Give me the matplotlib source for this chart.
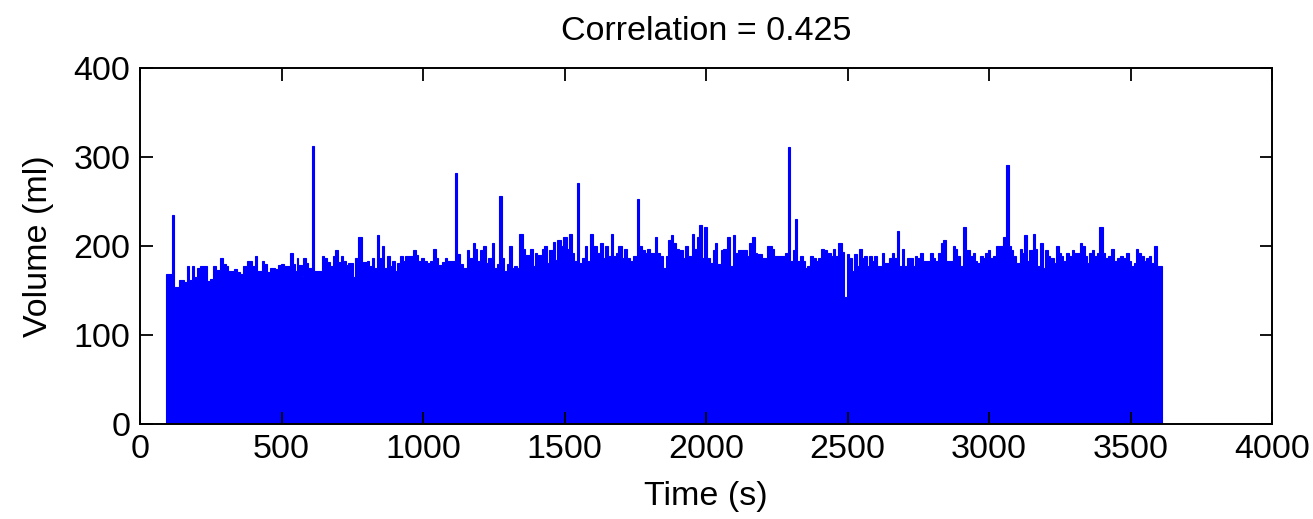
import matplotlib
matplotlib.use("Agg")
import matplotlib.pyplot as plt
import numpy as np

# Segment start times (s) and volume (ml) of each bar
segment_start_s = [
    92, 113, 120, 138, 155, 165, 174, 183, 191, 203, 212, 238, 247, 257, 269, 283, 292, 304, 312, 332,
    342, 353, 363, 379, 395, 406, 415, 430, 438, 448, 459, 477, 489, 497, 509, 530, 540, 548, 554, 560,
    571, 577, 587, 595, 607, 615, 642, 650, 660, 671, 681, 689, 701, 709, 719, 728, 736, 752, 760, 772,
    783, 789, 801, 810, 819, 827, 836, 845, 854, 862, 872, 883, 892, 901, 909, 919, 928, 936, 964, 975,
    984, 992, 1004, 1013, 1025, 1034, 1046, 1054, 1066, 1078, 1086, 1113, 1121, 1131, 1143, 1154, 1164, 1176, 1184, 1192,
    1202, 1211, 1223, 1231, 1243, 1251, 1260, 1270, 1278, 1286, 1296, 1305, 1313, 1322, 1331, 1340, 1352, 1360, 1378, 1388,
    1396, 1404, 1419, 1428, 1437, 1446, 1458, 1466, 1475, 1487, 1496,
    1508, 1517, 1525, 1533, 1543, 1552, 1561, 1572, 1581, 1590, 1599, 1616, 1625, 1635, 1643, 1655, 1663, 1672, 1682, 1690,
    1702, 1710, 1720, 1731, 1743, 1755, 1764, 1773, 1784, 1793, 1802, 1820, 1828, 1837, 1849, 1859, 1867, 1875, 1885, 1894,
    1906, 1918, 1926, 1938, 1949, 1958, 1967, 1976, 1985, 1993, 2002, 2014, 2024, 2032, 2040, 2052, 2061, 2075, 2085, 2094,
    2102, 2114, 2144, 2153, 2161, 2173, 2181,
    2197, 2215, 2232, 2240, 2279, 2288, 2297, 2306, 2315, 2323, 2332, 2342, 2350, 2358, 2368, 2379, 2389, 2397, 2405, 2417,
    2427, 2441, 2448, 2456, 2468, 2480, 2488, 2497, 2507, 2515, 2523, 2533, 2541, 2550, 2559, 2568, 2577, 2586, 2594, 2603,
    2621, 2629, 2648, 2656, 2665, 2674, 2683, 2692, 2700, 2709, 2731, 2739, 2747, 2756, 2768, 2792, 2801, 2809, 2821, 2829,
    2839, 2848, 2872, 2880, 2888, 2898, 2907,
    2917, 2933, 2943, 2951, 2959, 2969, 2978, 2986, 2995, 3004, 3013, 3025, 3051, 3061, 3070, 3077, 3086, 3096, 3108, 3116,
    3124, 3134, 3143, 3155, 3163, 3171, 3181, 3190, 3198, 3207, 3216, 3228, 3237, 3246, 3254, 3263, 3273, 3281, 3293, 3301,
    3320, 3328, 3340, 3348, 3355, 3363, 3372, 3381, 3390, 3402, 3410, 3422, 3430, 3440, 3452, 3463, 3475, 3485, 3493, 3501,
    3511, 3520, 3528, 3537, 3546, 3555, 3564, 3572, 3584, 3593,
]
last_end_s = 3613

volume_ml = [
    168, 235, 154, 162, 160, 177, 162, 177, 165, 175, 177, 161, 163, 177, 173, 186, 180, 177, 172, 174,
    171, 168, 177, 183, 177, 189, 172, 183, 180, 171, 175, 174, 179, 180, 177, 192, 180, 172, 186, 179,
    166, 186, 181, 175, 312, 172, 189, 186, 182, 177, 189, 195, 182, 189, 183, 179, 181, 165, 186, 210,
    175, 182, 183, 177, 186, 175, 212, 186, 200, 175, 189, 177, 183, 172, 181, 189, 183, 189, 195, 190,
    183, 186, 183, 181, 183, 197, 186, 179, 182, 186, 183, 282, 191, 180, 175, 195, 186, 203, 197, 183,
    196, 200, 181, 186, 203, 175, 180, 256, 186, 172, 180, 200, 175, 177, 175, 214, 197, 190, 197, 177,
    192, 190, 197, 200, 181, 195, 205, 184, 207, 200, 210,
    197, 214, 192, 183, 271, 181, 186, 200, 183, 214, 200, 192, 203, 186, 200, 189, 214, 189, 192, 200,
    186, 197, 186, 183, 189, 253, 200, 195, 192, 197, 192, 210, 192, 189, 175, 189, 207, 212, 203, 197,
    195, 186, 200, 189, 214, 197, 210, 224, 186, 221, 186, 181, 195, 203, 180, 195, 197, 210, 177, 212,
    192, 195, 189, 203, 210, 192, 191,
    186, 200, 197, 189, 192, 311, 183, 195, 230, 183, 189, 183, 175, 177, 189, 186, 183, 186, 197, 195,
    192, 189, 197, 189, 203, 193, 143, 191, 186, 172, 191, 177, 197, 186, 189, 177, 189, 183, 189, 177,
    192, 181, 186, 192, 186, 217, 177, 197, 177, 186, 177, 189, 186, 192, 183, 192, 186, 183, 192, 203,
    207, 183, 200, 197, 189, 177, 221,
    195, 189, 192, 183, 181, 189, 186, 192, 195, 186, 189, 200, 210, 291, 200, 195, 189, 181, 197, 192,
    212, 183, 195, 214, 197, 177, 203, 175, 195, 189, 186, 181, 200, 192, 189, 183, 192, 189, 195, 192,
    203, 200, 189, 181, 192, 195, 189, 192, 221, 192, 187, 189, 197, 183, 186, 189, 186, 192, 183, 177,
    181, 197, 192, 189, 183, 186, 189, 181, 200, 177,
]

title_text = "Correlation = 0.425"
x_label = "Time (s)"
y_label = "Volume (ml)"
x_ticks = [0, 500, 1000, 1500, 2000, 2500, 3000, 3500, 4000]
y_ticks = [0, 100, 200, 300, 400]

plt.rcParams['font.family'] = ['Liberation Sans', 'DejaVu Sans']
FS = 24.5

fig = plt.figure(figsize=(13.13, 5.19), dpi=100)
ax = fig.add_axes([140 / 1313, 1 - 424 / 519, (1272 - 140) / 1313, (424 - 68) / 519])

edges = np.array(segment_start_s + [last_end_s], dtype=float)
ax.stairs(np.array(volume_ml, dtype=float), edges, fill=True, color='#0000ff',
          linewidth=0.8, edgecolor='#0000ff', baseline=0)

ax.set_xlim(0, 4000)
ax.set_ylim(0, 400)
ax.set_xticks(x_ticks)
ax.set_yticks(y_ticks)
ax.tick_params(direction='in', length=9, width=1.3, top=True, right=True,
               labelsize=FS, pad=7)
for s in ax.spines.values():
    s.set_linewidth(1.4)
ax.set_xlabel(x_label, fontsize=FS, labelpad=12)
ax.set_ylabel(y_label, fontsize=FS, labelpad=14)
ax.set_title(title_text, fontsize=FS, pad=20)

fig.savefig("out.png", dpi=100)
